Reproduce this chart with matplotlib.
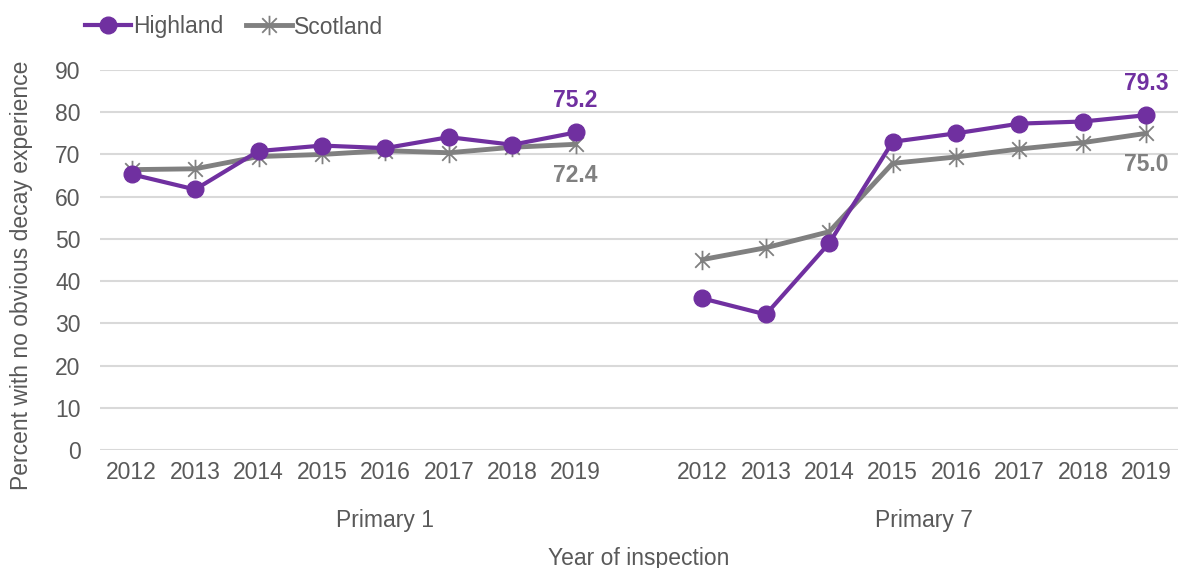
import matplotlib
matplotlib.use("Agg")
import matplotlib.pyplot as plt
from matplotlib.path import Path
import numpy as np

plt.rcParams['font.family'] = ['Liberation Sans', 'DejaVu Sans']

years = ["2012", "2013", "2014", "2015", "2016", "2017", "2018", "2019"]
groups = ["Primary 1", "Primary 7"]
highland_p1 = [65.3, 61.7, 70.8, 72.1, 71.5, 74.1, 72.3, 75.2]
scotland_p1 = [66.4, 66.6, 69.5, 70.0, 70.9, 70.4, 71.7, 72.4]
highland_p7 = [35.9, 32.1, 49.0, 73.0, 75.0, 77.3, 77.8, 79.3]
scotland_p7 = [45.1, 47.9, 51.7, 67.9, 69.4, 71.3, 72.8, 75.0]

purple = "#7030A0"
grey = "#808080"
text_c = "#595959"
fs = 16.5

# asterisk marker: vertical line plus an X
star = Path([(0, -1), (0, 1), (-0.75, -0.75), (0.75, 0.75), (-0.75, 0.75), (0.75, -0.75)],
            [Path.MOVETO, Path.LINETO, Path.MOVETO, Path.LINETO, Path.MOVETO, Path.LINETO])

fig = plt.figure(figsize=(11.79, 5.68), dpi=100)
ax = fig.add_axes([100/1179, 118/568, 1078/1179, 380/568])

n = len(years)
x1 = np.arange(n)
x7 = np.arange(n) + n + 1

for xs, hv, sv in [(x1, highland_p1, scotland_p1), (x7, highland_p7, scotland_p7)]:
    ax.plot(xs, sv, color=grey, lw=3.5, marker=star, ms=14, mew=1.3, mec=grey, zorder=2,
            label="Scotland" if xs is x1 else None)
    ax.plot(xs, hv, color=purple, lw=3, marker='o', ms=12, zorder=3,
            label="Highland" if xs is x1 else None)

ax.set_xlim(-0.5, 2 * n + 0.5)
ax.set_ylim(0, 90)
ax.set_yticks(range(0, 91, 10))
ax.yaxis.grid(True, color="#D9D9D9", lw=1.5)
ax.set_axisbelow(True)
for s in ax.spines.values():
    s.set_visible(False)
ax.set_xticks(list(x1) + list(x7))
ax.set_xticklabels(years + years)
ax.tick_params(axis='x', length=0, labelsize=fs, colors=text_c, pad=8)
ax.tick_params(axis='y', length=0, labelsize=fs, colors=text_c, pad=14)

# annotations
for xs, hv, sv in [(x1, highland_p1, scotland_p1), (x7, highland_p7, scotland_p7)]:
    ax.text(xs[-1], hv[-1] + 7.5, f"{hv[-1]:.1f}", color=purple, fontsize=fs,
            fontweight='bold', ha='center', va='center')
    ax.text(xs[-1], sv[-1] - 7.5, f"{sv[-1]:.1f}", color=grey, fontsize=fs,
            fontweight='bold', ha='center', va='center')

# group labels
trans = ax.get_xaxis_transform()
ax.text((x1[0] + x7[0] - 1) / 2, -0.185, groups[0], transform=trans, ha='center', va='center',
        fontsize=fs, color=text_c)
ax.text((x7[0] + x7[-1]) / 2, -0.185, groups[1], transform=trans, ha='center', va='center',
        fontsize=fs, color=text_c)

ax.set_xlabel("Year of inspection", fontsize=fs, color=text_c, labelpad=0)
ax.xaxis.set_label_coords(0.5, -0.255)
ax.set_ylabel("Percent with no obvious decay experience", fontsize=fs, color=text_c)
ax.yaxis.set_label_coords(-0.062, 0.46)

handles, labels = ax.get_legend_handles_labels()
order = [labels.index("Highland"), labels.index("Scotland")]
leg = fig.legend([handles[i] for i in order], [labels[i] for i in order],
                 loc='center left', bbox_to_anchor=(85/1179, 1 - 27/568), ncol=2, frameon=False,
                 fontsize=fs, handlelength=2.0, handletextpad=0.1, columnspacing=1.0,
                 borderpad=0, borderaxespad=0)
for t in leg.get_texts():
    t.set_color(text_c)

fig.savefig("out.png", dpi=100)
